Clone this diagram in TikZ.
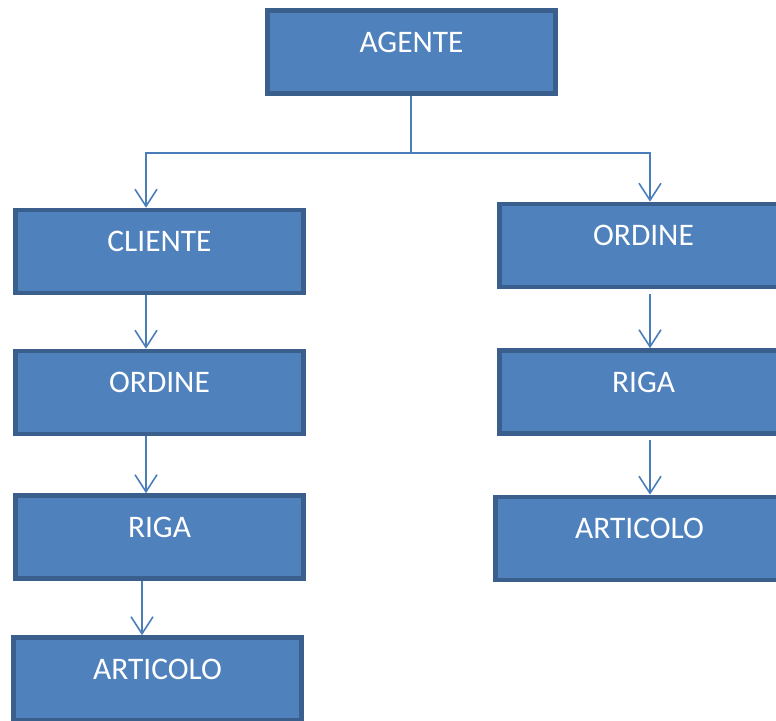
\documentclass[tikz,border=0pt]{standalone}
\usepackage{fontspec}
\setmainfont{Carlito}
\usetikzlibrary{arrows.meta,positioning}
\definecolor{boxfill}{HTML}{4F81BD}
\definecolor{boxline}{HTML}{3A5F8D}
\definecolor{linkcol}{HTML}{4A7EBB}
\tikzset{>={Straight Barb[length=8.5pt,width=11pt]}}
\tikzset{entity/.style={rectangle, draw=boxline, fill=boxfill, line width=2.2pt,
    text=white, font=\fontsize{15.7}{18}\selectfont, inner sep=0pt,
    minimum width=144pt, text height=20.8pt, text depth=20.8pt}}
\tikzset{link/.style={->, draw=linkcol, line width=0.8pt}}
\begin{document}
\begin{tikzpicture}[x=0.5pt, y=-0.5pt]
  \useasboundingbox (0,0) rectangle (776,720);
  % left column
  \node[entity] (agente) at (411.5,52) {AGENTE};
  \node[entity] (cliente) at (159.5,251.5) {CLIENTE};
  \node[entity] (ordineL) at (159.5,392.5) {ORDINE};
  \node[entity] (rigaL) at (159.5,537) {RIGA};
  \node[entity] (articoloL) at (157.5,679) {ARTICOLO};
  % right column
  \node[entity] (ordineR) at (643.5,245.5) {ORDINE};
  \node[entity] (rigaR) at (643.5,392) {RIGA};
  \node[entity] (articoloR) at (639.5,538.5) {ARTICOLO};
  % columns of the connectors
  \coordinate (lx) at (146,0);
  \coordinate (lx2) at (142,0);
  \coordinate (rx) at (650,0);
  \coordinate (fork) at (411,153);
  \draw[link, -] (agente.south -| fork) -- (fork);
  \draw[link] (fork) -| (cliente.north -| lx);
  \draw[link] (fork) -| (ordineR.north -| rx);
  \draw[link] (cliente.south -| lx) -- (ordineL.north -| lx);
  \draw[link] (ordineL.south -| lx) -- (rigaL.north -| lx);
  \draw[link] (rigaL.south -| lx2) -- (articoloL.north -| lx2);
  \draw[link] ([yshift=-2.5pt]ordineR.south -| rx) -- (rigaR.north -| rx);
  \draw[link] ([yshift=-2pt]rigaR.south -| rx) -- (articoloR.north -| rx);
\end{tikzpicture}
\end{document}
